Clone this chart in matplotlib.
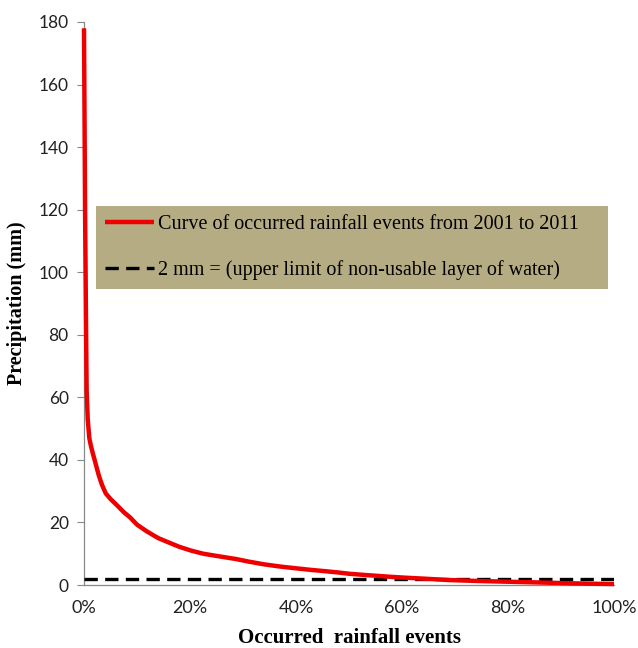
import matplotlib.pyplot as plt
from matplotlib.ticker import PercentFormatter

# exceedance curve of rainfall events (percent of events vs precipitation in mm)
events_pct = [0.0, 0.1, 0.2, 0.3, 0.4, 0.5, 0.7, 1.0, 1.3, 1.6, 2.0, 2.4, 2.8,
              3.4, 4.1, 5.0, 6.4, 7.5, 8.7, 10.0, 11.8, 14.0, 16.4, 18.0,
              20.2, 22.5, 25.0, 28.7, 31.0, 34.0, 37.0, 40.2, 43.0, 45.6,
              48.0, 50.0, 53.0, 55.6, 58.0, 61.0, 64.5, 68.6, 74.0, 80.0,
              86.0, 91.7, 96.0, 100.0]
precip_mm = [178, 150, 120, 100, 80, 62, 53, 47, 44.5, 42.5, 40, 37.5, 35,
             32, 29.3, 27.5, 25.2, 23.3, 21.6, 19.3, 17.2, 15.0, 13.3, 12.2,
             11.0, 10.0, 9.3, 8.3, 7.5, 6.6, 5.9, 5.3, 4.8, 4.4,
             4.0, 3.6, 3.2, 2.9, 2.6, 2.3, 2.0, 1.6, 1.3, 1.05,
             0.8, 0.55, 0.4, 0.3]

threshold_mm = 2
curve_label = "Curve of occurred rainfall events from 2001 to 2011"
threshold_label = "2 mm = (upper limit of non-usable layer of water)"

fig = plt.figure(figsize=(6.38, 6.48), dpi=100)
ax = fig.add_axes([84 / 638, 1 - 585 / 648, 530 / 638, 563 / 648])

ax.plot(events_pct, precip_mm, color="#ee0000", lw=3.2, label=curve_label,
        solid_capstyle="butt", solid_joinstyle="round", clip_on=False, zorder=5)
ax.plot([0, 100], [threshold_mm, threshold_mm], color="black", lw=2.4,
        ls=(0, (4, 2.2)), label=threshold_label, zorder=4)

ax.set_xlim(0, 100)
ax.set_ylim(0, 180)
ax.set_yticks(range(0, 181, 20))
ax.set_xticks(range(0, 101, 20))
ax.xaxis.set_major_formatter(PercentFormatter(decimals=0))

for side in ("top", "right"):
    ax.spines[side].set_visible(False)
for side in ("left", "bottom"):
    ax.spines[side].set_color("#888888")
    ax.spines[side].set_linewidth(0.9)

ax.tick_params(axis="y", length=5, color="#888888", labelsize=12.5, pad=6)
ax.tick_params(axis="x", length=0, labelsize=13, pad=11)
for lbl in ax.get_xticklabels() + ax.get_yticklabels():
    lbl.set_family("Lato")
    lbl.set_color("#222222")

ax.set_ylabel("Precipitation (mm)", family="Liberation Serif", weight="bold",
              fontsize=14.5, labelpad=8)
ax.set_xlabel("Occurred  rainfall events", family="Liberation Serif",
              weight="bold", fontsize=15)
ax.xaxis.set_label_coords(0.5, -0.077)

leg = ax.legend(loc="center left", bbox_to_anchor=(0.023, 0.522, 0.965, 0.155),
                mode="expand", fancybox=False, framealpha=1, handlelength=2.4,
                handletextpad=0.2, labelspacing=1.3, borderpad=0.45,
                borderaxespad=0, prop={"family": "Liberation Serif", "size": 14.5})
leg.get_frame().set_facecolor("#b5ac83")
leg.get_frame().set_edgecolor("none")

fig.savefig("out.png", dpi=100)
